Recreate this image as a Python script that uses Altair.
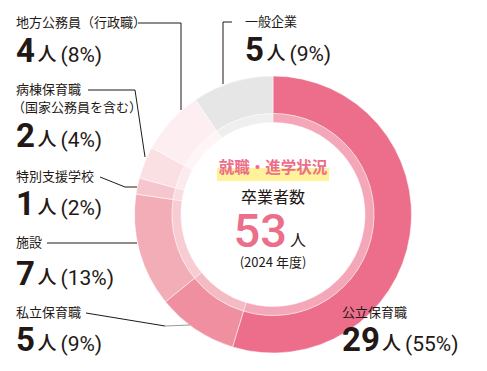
import altair as alt
import pandas as pd

# ---- data ----
categories = ["公立保育職", "私立保育職", "施設", "特別支援学校", "病棟保育職", "地方公務員（行政職）", "一般企業"]
counts = [29, 5, 7, 1, 2, 4, 5]
percents = ["55%", "9%", "13%", "2%", "4%", "8%", "9%"]
colors = ["#EC6E8A", "#EF8FA0", "#F2ADB7", "#F6C6CE", "#FADFE3", "#FDEFF1", "#E6E6E6"]
total = 53
year_label = "(2024 年度)"

OX, OY = 8, 8
W, H = 471, 355
CX, CY = 273 - OX, 214.5 - OY

df = pd.DataFrame({"category": categories, "count": counts, "idx": list(range(len(categories)))})
color_scale = alt.Scale(domain=categories, range=colors)

base = alt.Chart(df).encode(
    theta=alt.Theta("count:Q", stack=True),
    order=alt.Order("idx:Q"),
    color=alt.Color("category:N", scale=color_scale, legend=None),
)
outer = base.mark_arc(x=CX, y=CY, radius=138.5, radius2=101, stroke="#ffffff", strokeWidth=0.5)
inner = base.mark_arc(x=CX, y=CY, radius=101, radius2=92, opacity=0.6, stroke="#ffffff", strokeWidth=0.5)

# ---- annotation layout (label left x, label centre y, number baseline y) ----
layout = {
    "地方公務員（行政職）": (16, 23, 62),
    "一般企業": (245, 22, 61),
    "病棟保育職": (16, 90, 147),
    "特別支援学校": (16, 177, 215),
    "施設": (16, 243, 285),
    "私立保育職": (16, 313, 351),
    "公立保育職": (342, 313, 351),
}
label_rows, num_rows, nin_rows, pct_rows = [], [], [], []
for c, n, p in zip(categories, counts, percents):
    lx, ly, by = layout[c]
    label_rows.append({"t": c, "x": lx - OX, "y": ly - OY})
    s = str(n)
    num_rows.append({"t": s, "x": lx - OX, "y": by - OY})
    nx = lx + 18.5 * len(s) + 3
    nin_rows.append({"t": "人", "x": nx - OX, "y": by - OY})
    pct_rows.append({"t": "(" + p + ")", "x": nx + 23 - OX, "y": by - OY})
label_rows.append({"t": "（国家公務員を含む）", "x": 12 - OX, "y": 108 - OY})

def txt(rows, **kw):
    return alt.Chart(pd.DataFrame(rows)).mark_text(align="left", **kw).encode(
        x=alt.X("x:Q", scale=None), y=alt.Y("y:Q", scale=None), text="t:N")

labels = txt(label_rows, baseline="middle", font="Noto Sans CJK JP", fontSize=13, color="#231815")
nums = txt(num_rows, baseline="alphabetic", font="Roboto", fontSize=33, fontWeight="bold", color="#231815")
nin = txt(nin_rows, baseline="alphabetic", font="Noto Sans CJK JP", fontSize=19, fontWeight=500, color="#231815", dy=-1)
pcts = txt(pct_rows, baseline="alphabetic", font="Roboto", fontSize=21, color="#231815")

# ---- leader lines ----
leaders = [
    ("a", [(138, 23), (181, 23), (181, 110)]),
    ("b", [(232, 22), (223, 22), (223, 84)]),
    ("c", [(88, 90), (135, 90), (145, 157)]),
    ("d", [(100, 177), (125, 187), (137, 187)]),
    ("e", [(47, 243), (137, 243)]),
    ("f", [(86, 313), (165, 326)]),
]
lrows = []
for g, pts in leaders:
    for i, (x, y) in enumerate(pts):
        lrows.append({"g": g, "i": i, "x": x - OX, "y": y - OY})
lines = alt.Chart(pd.DataFrame(lrows)).mark_line(color="#231815", strokeWidth=1).encode(
    x=alt.X("x:Q", scale=None), y=alt.Y("y:Q", scale=None), detail="g:N", order="i:Q")
grey_rows = [{"g": "f2", "i": 0, "x": 165 - OX, "y": 326 - OY}, {"g": "f2", "i": 1, "x": 190 - OX, "y": 325 - OY}]
grey_line = alt.Chart(pd.DataFrame(grey_rows)).mark_line(color="#9a9a9a", strokeWidth=1).encode(
    x=alt.X("x:Q", scale=None), y=alt.Y("y:Q", scale=None), detail="g:N", order="i:Q")

# ---- centre text ----
hl = alt.Chart(pd.DataFrame({"x": [217 - OX], "x2": [329 - OX], "y": [168 - OY], "y2": [181 - OY]})).mark_rect(
    color="#FFF29B").encode(x=alt.X("x:Q", scale=None), x2="x2:Q", y=alt.Y("y:Q", scale=None), y2="y2:Q")

def ctext(t, x, y, align, baseline, **kw):
    return alt.Chart(pd.DataFrame([{"t": t, "x": x, "y": y}])).mark_text(
        align=align, baseline=baseline, **kw).encode(
        x=alt.X("x:Q", scale=None), y=alt.Y("y:Q", scale=None), text="t:N")

title = ctext("就職・進学状況", CX, 168 - OY, "center", "middle", font="Noto Sans CJK JP",
              fontSize=15.5, fontWeight="bold", color="#EC6E8A")
sub = ctext("卒業者数", CX, 198 - OY, "center", "middle", font="Noto Sans CJK JP", fontSize=16, color="#231815")
big = ctext(str(total), 287 - OX, 247 - OY, "right", "alphabetic", font="Roboto", fontSize=47,
            fontWeight=500, color="#EC6E8A")
bignin = ctext("人", 290 - OX, 246 - OY, "left", "alphabetic", font="Noto Sans CJK JP", fontSize=16, color="#231815")
year = ctext(year_label, CX, 263 - OY, "center", "middle", font="Noto Sans CJK JP", fontSize=13, color="#231815")

chart = alt.layer(outer, inner, lines, grey_line, labels, nums, nin, pcts, hl, title, sub, big, bignin, year).properties(
    width=W, height=H, padding=0, autosize=alt.AutoSizeParams(type="none")
).configure_view(stroke=None)

chart.save("out.html", embed_options={"renderer": "svg", "actions": False})
